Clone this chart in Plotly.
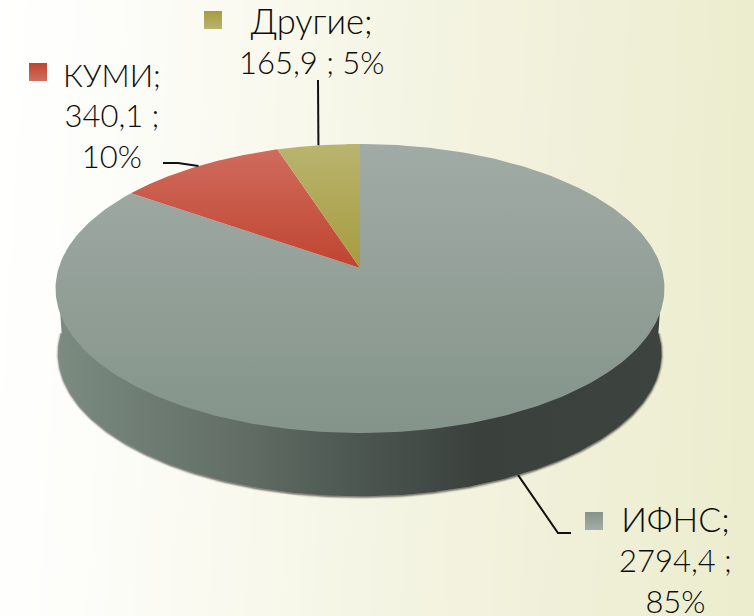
import numpy as np
import plotly.graph_objects as go

# ---- data ----
categories = ["ИФНС", "КУМИ", "Другие"]
values = [2794.4, 340.1, 165.9]
percents = [85, 10, 5]

top_colors = [("#a1aba5", "#84948a"), ("#d06d60", "#c04430"), ("#b9b470", "#a69c3e")]
key_colors = [("#a3ada7", "#84948a"), ("#d06d60", "#c04430"), ("#b9b470", "#a69c3e")]

W, H = 754, 616
CX, CY = 360.0, 268.0      # apex of the pie on the page
A, B, K = 301.4, 141.6, 0.1419   # tilt of the pie
DEPTH, SHRINK = 65.0, 0.99


def rim(theta, scale=1.0, dy=0.0):
    u, v = np.sin(theta), np.cos(theta)
    w = 1 + K * v
    return CX + scale * A * u / w, CY + scale * B * (-v) / w + dy


total = sum(values)
edges = np.concatenate([[0], np.cumsum(values)]) / total * 2 * np.pi
mids = (edges[:-1] + edges[1:]) / 2

fig = go.Figure()

# page background
bg_x = np.linspace(0, W, 7)
bg_y = np.array([0, H])
bg_z = [[min(1.0, x / W + 0.05 * y / H) for x in bg_x] for y in bg_y]
fig.add_trace(go.Heatmap(
    x=bg_x, y=bg_y, z=bg_z, zsmooth="best", showscale=False, hoverinfo="skip", zmin=0, zmax=1,
    colorscale=[[0, "#ffffff"], [0.2, "#fcfcf7"], [0.4, "#f8f8ec"], [0.6, "#f3f3e1"],
                [0.8, "#f0f0d9"], [1, "#ecedce"]],
))

# side wall
t_low = np.linspace(np.pi * 0.5, np.pi * 1.5, 240)
bx, by = rim(t_low, SHRINK, DEPTH)
t_max = np.arccos(-K)
lx, ly = rim(2 * np.pi - t_max)
rx, ry = rim(t_max)
wall_x = np.concatenate([bx, [lx + 3, rx - 3]])
wall_y = np.concatenate([by, [ly, ry]])

for width, alpha in [(5, 0.10), (3, 0.22), (1.5, 0.40)]:
    fig.add_trace(go.Scatter(
        x=bx, y=by + 0.5, mode="lines", hoverinfo="skip", showlegend=False,
        line=dict(color=f"rgba(60,55,52,{alpha})", width=width),
    ))
fig.add_trace(go.Scatter(
    x=wall_x, y=wall_y, mode="lines", fill="toself", hoverinfo="skip", showlegend=False,
    line=dict(width=0),
    fillgradient=dict(type="horizontal", start=56, stop=665, colorscale=[
        [0, "#7c8c81"], [0.15, "#6e7c73"], [0.3, "#626e66"], [0.5, "#4c5650"],
        [0.7, "#3a403c"], [1, "#3d433f"]]),
))

# top face
for i, name in enumerate(categories):
    t = np.linspace(edges[i], edges[i + 1], 300)
    x, y = rim(t)
    fig.add_trace(go.Scatter(
        x=np.concatenate([[CX], x, [CX]]), y=np.concatenate([[CY], y, [CY]]),
        mode="lines", fill="toself", showlegend=False, name=name, line=dict(width=0),
        hoverinfo="skip",
        fillgradient=dict(type="vertical", start=144, stop=433 if i == 0 else 268,
                          colorscale=[[0, top_colors[i][0]], [1, top_colors[i][1]]]),
    ))

# leader lines, anchored on each slice's middle
elbows = {
    0: [(558, 533), (571, 533)],
    1: [(178, 163), (163, 163)],
    2: [(318, 80)],
}
for i in range(3):
    if i == 0:
        sx, sy = rim(mids[i], SHRINK, DEPTH)
    else:
        sx, sy = rim(mids[i])
    fig.add_trace(go.Scatter(
        x=[float(sx)] + [p[0] for p in elbows[i]],
        y=[float(sy)] + [p[1] for p in elbows[i]],
        mode="lines", hoverinfo="skip", showlegend=False,
        line=dict(color="#111111", width=2),
    ))

# legend keys
keys = [(594, 521), (38, 72), (213, 20)]
for i in range(3):
    fig.add_trace(go.Scatter(
        x=[keys[i][0]], y=[keys[i][1]], mode="markers", hoverinfo="skip", showlegend=False,
        marker=dict(symbol="square", size=18, color=key_colors[i][1], line=dict(width=0),
                    gradient=dict(type="vertical", color=key_colors[i][0])),
    ))

# data labels
def fmt(v):
    return f"{v:.1f}".replace(".", ",")

def big(s, px):
    return f'<span style="font-size:{px}px">{s}</span>'

label_texts = [
    f"{big(categories[0] + ';', 34)}<br>{fmt(values[0])} ;<br>{percents[0]}%",
    f"{categories[1]};<br>{fmt(values[1])} ;<br>{percents[1]}%",
    f"{big(categories[2] + ';', 34.5)}<br>{fmt(values[2])} ; {percents[2]}%",
]
label_pos = [(675, 496, 0), (112, 54, 0), (311, 0, 2)]
for txt, (x, y, shift) in zip(label_texts, label_pos):
    fig.add_annotation(
        x=x, y=y, yshift=shift, text=txt, showarrow=False, xanchor="center", yanchor="top",
        align="center",
        font=dict(family="Lato", size=31, color="#0c0c0c", weight=300),
    )

fig.update_layout(
    width=W, height=H, margin=dict(l=0, r=0, t=0, b=0),
    paper_bgcolor="#ffffff", plot_bgcolor="rgba(0,0,0,0)", showlegend=False,
    xaxis=dict(range=[0, W], visible=False, fixedrange=True),
    yaxis=dict(range=[H, 0], visible=False, fixedrange=True),
)
fig.write_html("out.html", config={"displayModeBar": False},
               post_script="document.body.style.margin='0';document.documentElement.style.overflow='hidden';")
